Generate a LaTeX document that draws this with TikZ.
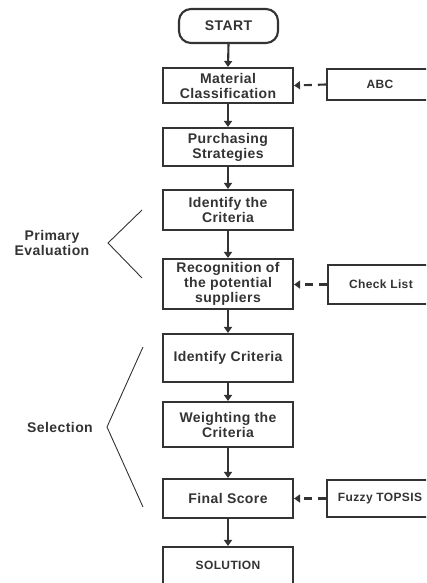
\documentclass[tikz,border=0pt]{standalone}
\usepackage{fontspec}
\setmainfont{Liberation Sans}
\newfontfamily\boxfont[LetterSpace=3]{Liberation Sans}
\usetikzlibrary{arrows.meta}
\definecolor{ink}{HTML}{333333}
\tikzset{
  mainbox/.style={draw=ink, line width=2.1pt, minimum width=130pt, inner sep=0pt, align=center,
    font=\fontsize{14}{15}\boxfont\bfseries, text=ink},
  sidebox/.style={draw=ink, line width=2.1pt, minimum width=106pt, inner sep=0pt, align=center,
    font=\fontsize{12}{13}\boxfont\bfseries, text=ink},
  flow/.style={draw=ink, line width=2.1pt, -{Triangle[length=6pt,width=8pt]}},
  dflow/.style={draw=ink, line width=2.1pt, dash pattern=on 8pt off 6pt, -{Triangle[length=6pt,width=8pt]}},
  brace/.style={draw=ink, line width=0.9pt},
  lbl/.style={align=center, font=\fontsize{14}{15}\boxfont\bfseries, text=ink}
}
\begin{document}
\begin{tikzpicture}[x=1pt,y=-1pt]
\useasboundingbox (0,0) rectangle (426,583);
\clip (0,0) rectangle (426,583);
\node[mainbox, minimum width=99pt, minimum height=34pt, rounded corners=12pt] (start) at (228.5,26) {START};
\node[mainbox, minimum height=35pt] (mc) at (228,85.5) {Material\\Classification};
\node[mainbox, minimum height=38pt] (ps) at (228,147) {Purchasing\\Strategies};
\node[mainbox, minimum height=40pt] (ic1) at (228,210) {Identify the\\Criteria};
\node[mainbox, minimum height=50pt] (rec) at (228,284) {Recognition of\\the potential\\suppliers};
\node[mainbox, minimum height=48pt] (ic2) at (228,358) {Identify Criteria};
\node[mainbox, minimum height=45pt] (wc) at (228,424.5) {Weighting the\\Criteria};
\node[mainbox, minimum height=39pt] (fs) at (228,498.5) {Final Score};
\node[mainbox, minimum height=40pt, text depth=0pt] (sol) at (228,567) {};
\node[font=\fontsize{12}{13}\boxfont\bfseries, text=ink] (soltext) at (228,565) {SOLUTION};

\node[sidebox, minimum height=31pt] (abc) at (380,84.5) {ABC};
\node[sidebox, minimum height=39pt] (chk) at (381,284.5) {Check List};
\node[sidebox, minimum height=37pt] (fuz) at (380,498.5) {Fuzzy TOPSIS};

\draw[flow] (start.south) -- (mc.north);
\draw[flow] (mc.south) -- (ps.north);
\draw[flow] (ps.south) -- (ic1.north);
\draw[flow] (ic1.south) -- (rec.north);
\draw[flow] (rec.south) -- (ic2.north);
\draw[flow] (ic2.south) -- (wc.north);
\draw[flow] (wc.south) -- (fs.north);
\draw[flow] (fs.south) -- (sol.north);

\draw[dflow] (abc.west) -- (mc.east);
\draw[dflow] (chk.west) -- (rec.east |- chk.west);
\draw[dflow] (fuz.west) -- (fs.east);

\node[lbl] (pe) at (52,243) {Primary\\Evaluation};
\coordinate (pe1) at (142,210);
\coordinate (pe2) at (108,243);
\coordinate (pe3) at (142,278);
\draw[brace] (pe1) -- (pe2) -- (pe3);

\node[lbl] (sel) at (60,427) {Selection};
\coordinate (se1) at (143,347);
\coordinate (se2) at (107,427);
\coordinate (se3) at (143,507);
\draw[brace] (se1) -- (se2) -- (se3);
\end{tikzpicture}
\end{document}
